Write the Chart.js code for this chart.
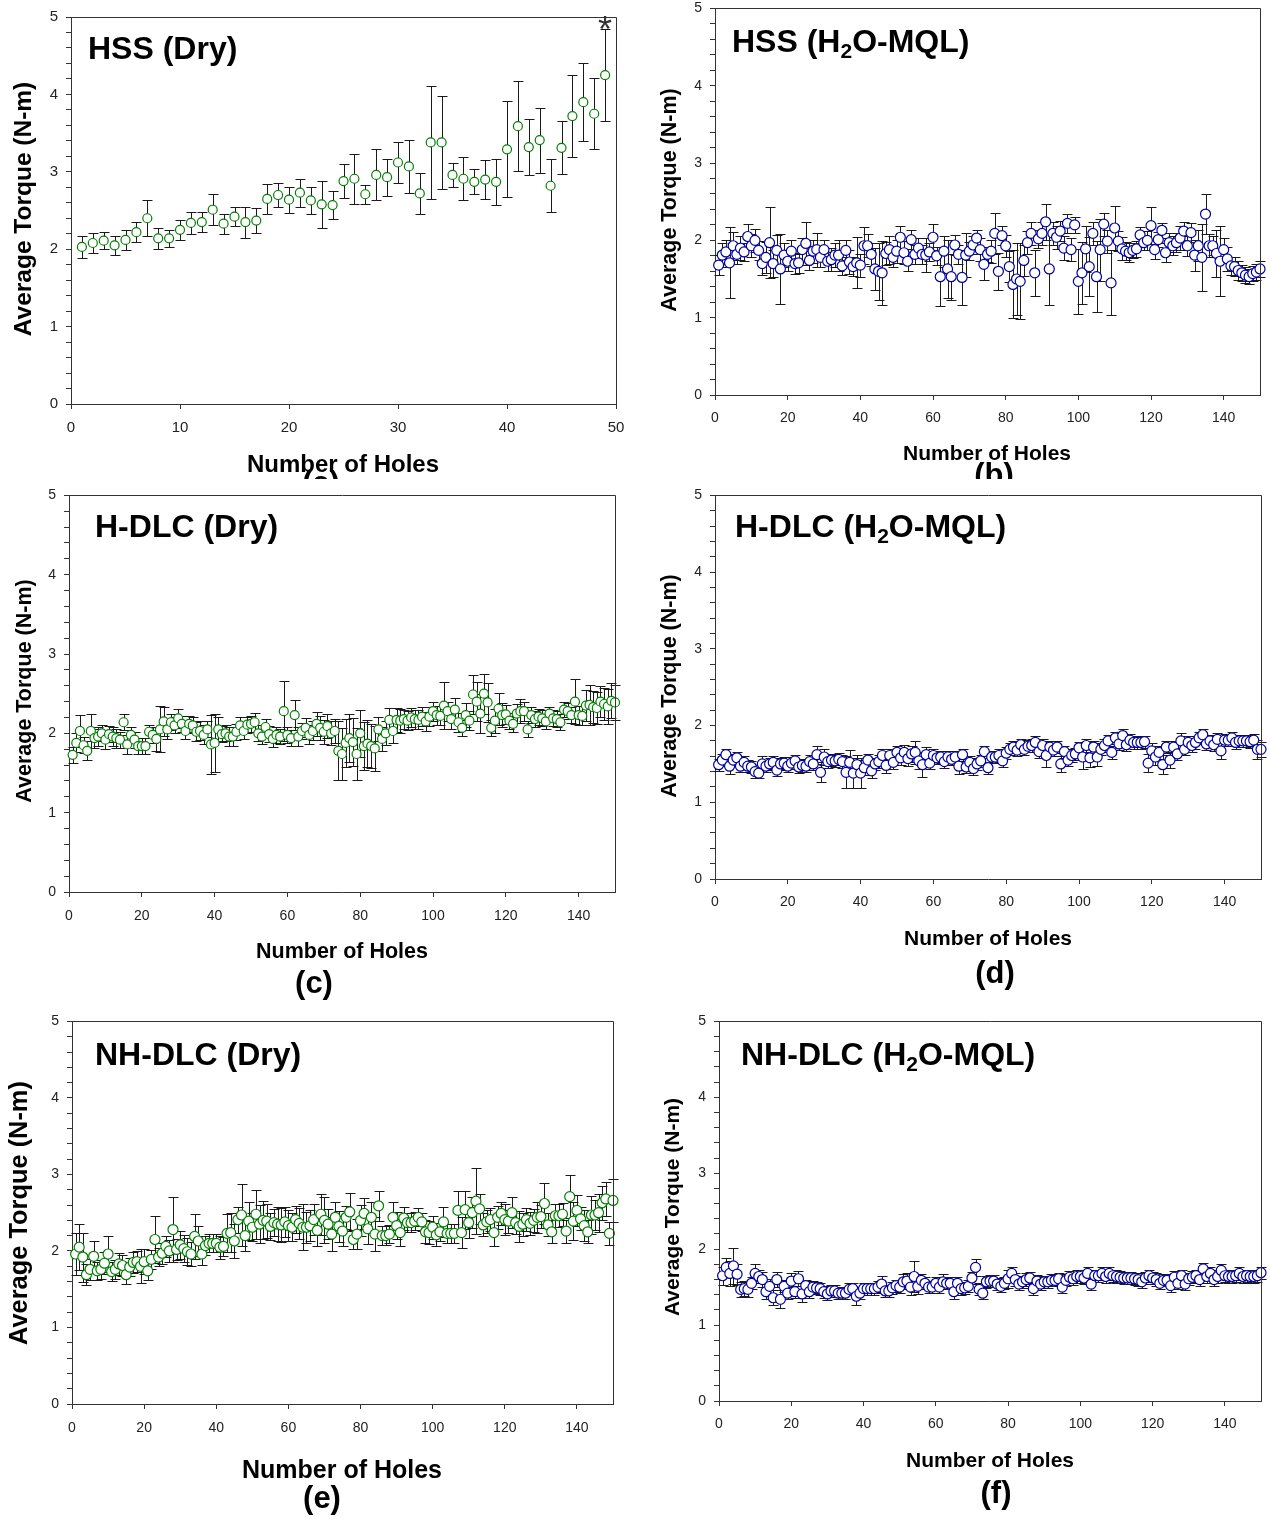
<!DOCTYPE html>
<html>
<head>
<meta charset="utf-8">
<script src="https://cdn.jsdelivr.net/npm/chart.js@4.4.1/dist/chart.umd.min.js"></script>
<style>
  html, body { margin: 0; padding: 0; background: #fff; }
  #page { position: relative; width: 1270px; height: 1519px; overflow: hidden; background: #fff; }
  #page canvas { position: absolute; }
</style>
</head>
<body>
<div id="page">
  <canvas id="pa"></canvas>
  <canvas id="pb"></canvas>
  <canvas id="pc"></canvas>
  <canvas id="pd"></canvas>
  <canvas id="pe"></canvas>
  <canvas id="pf"></canvas>
</div>
<script>
// ---- data (average torque, N-m, and +/- error per hole) ----

var torqueA = [2.03,2.08,2.11,2.05,2.12,2.22,2.40,2.14,2.14,2.25,
  2.34,2.35,2.51,2.33,2.42,2.35,2.37,2.65,2.70,2.64,
  2.73,2.63,2.58,2.57,2.88,2.91,2.71,2.96,2.93,3.12,
  3.07,2.72,3.38,3.38,2.96,2.91,2.87,2.90,2.87,3.29,
  3.59,3.32,3.41,2.82,3.31,3.72,3.90,3.75,4.25];
var errA = [0.14,0.13,0.11,0.12,0.13,0.13,0.23,0.14,0.11,0.13,
  0.14,0.13,0.20,0.13,0.12,0.20,0.16,0.19,0.16,0.17,
  0.18,0.18,0.30,0.18,0.22,0.32,0.12,0.33,0.24,0.27,
  0.34,0.27,0.73,0.60,0.16,0.28,0.16,0.25,0.30,0.62,
  0.58,0.36,0.42,0.34,0.34,0.53,0.50,0.46,0.59];

var torqueB = [1.68,1.81,1.85,1.71,1.93,1.82,1.90,1.85,2.05,1.93,
  2.00,1.87,1.70,1.78,1.97,1.70,1.87,1.63,1.81,1.73,
  1.86,1.70,1.71,1.88,1.96,1.74,1.86,1.88,1.78,1.88,
  1.73,1.75,1.81,1.81,1.67,1.87,1.72,1.66,1.71,1.68,
  1.93,1.93,1.82,1.63,1.60,1.58,1.83,1.88,1.78,1.86,
  2.04,1.84,1.73,2.01,1.82,1.90,1.82,1.81,1.85,2.04,
  1.80,1.53,1.86,1.63,1.53,1.94,1.82,1.52,1.81,1.86,
  1.94,2.03,1.88,1.69,1.82,1.86,2.09,1.60,2.06,1.93,
  1.66,1.43,1.50,1.47,1.74,1.97,2.09,1.58,2.02,2.09,
  2.24,1.63,2.09,2.04,2.12,1.90,2.22,1.88,2.20,1.47,
  1.58,1.89,1.66,2.09,1.53,1.88,2.21,1.99,1.45,2.16,
  1.99,1.89,1.86,1.84,1.87,1.89,2.07,1.97,2.00,2.19,
  1.88,2.01,2.13,1.84,1.97,1.93,1.97,2.03,2.12,1.93,
  2.10,1.81,1.93,1.78,2.34,1.93,1.93,1.83,1.73,1.88,
  1.76,1.67,1.66,1.61,1.58,1.55,1.53,1.57,1.59,1.63];
var errB = [0.13,0.15,0.15,0.46,0.18,0.12,0.15,0.12,0.16,0.15,
  0.15,0.12,0.15,0.20,0.46,0.18,0.20,0.45,0.15,0.12,
  0.15,0.13,0.13,0.15,0.28,0.12,0.15,0.22,0.12,0.12,
  0.12,0.15,0.15,0.20,0.12,0.13,0.15,0.12,0.33,0.15,
  0.24,0.15,0.15,0.27,0.37,0.41,0.15,0.18,0.12,0.15,
  0.15,0.15,0.12,0.12,0.12,0.13,0.12,0.22,0.12,0.17,
  0.12,0.38,0.20,0.38,0.30,0.13,0.12,0.35,0.28,0.12,
  0.12,0.10,0.15,0.20,0.10,0.15,0.26,0.24,0.12,0.14,
  0.20,0.44,0.47,0.49,0.20,0.15,0.15,0.30,0.12,0.15,
  0.23,0.47,0.15,0.15,0.13,0.15,0.12,0.15,0.10,0.42,
  0.40,0.30,0.38,0.15,0.46,0.40,0.15,0.15,0.42,0.29,
  0.13,0.15,0.12,0.12,0.10,0.10,0.10,0.10,0.12,0.24,
  0.12,0.10,0.10,0.12,0.12,0.12,0.12,0.15,0.12,0.13,
  0.12,0.20,0.20,0.43,0.26,0.15,0.12,0.30,0.45,0.15,
  0.15,0.12,0.12,0.12,0.10,0.10,0.10,0.10,0.10,0.10];

var torqueC = [1.73,1.88,2.03,1.85,1.78,2.03,1.94,1.96,2.00,1.92,
  1.99,1.96,1.94,1.92,2.14,1.86,1.98,1.92,1.84,1.84,
  1.84,2.02,1.98,1.93,2.05,2.15,2.05,2.14,2.10,2.19,
  2.12,2.03,2.12,2.10,2.02,2.03,1.98,2.05,1.86,1.88,
  2.05,1.99,2.00,1.96,1.96,2.02,2.10,2.03,2.11,2.12,
  2.14,2.00,1.96,2.08,1.99,1.93,1.98,1.96,2.28,1.98,
  1.94,2.23,1.96,2.03,2.07,1.98,2.03,2.12,2.07,2.02,
  2.09,2.00,2.03,1.78,1.74,1.88,1.94,1.89,1.74,2.00,
  1.84,1.87,1.84,1.81,2.05,1.93,2.00,2.17,2.03,2.17,
  2.16,2.18,2.16,2.20,2.18,2.17,2.21,2.15,2.21,2.28,
  2.23,2.22,2.35,2.28,2.18,2.30,2.14,2.07,2.23,2.16,
  2.49,2.40,2.25,2.50,2.39,2.07,2.16,2.31,2.23,2.24,
  2.16,2.12,2.25,2.28,2.28,2.05,2.23,2.18,2.21,2.19,
  2.15,2.25,2.19,2.18,2.14,2.30,2.28,2.23,2.40,2.23,
  2.22,2.35,2.36,2.33,2.32,2.40,2.37,2.34,2.41,2.39];
var errC = [0.10,0.12,0.20,0.10,0.12,0.21,0.12,0.12,0.10,0.12,
  0.10,0.12,0.12,0.10,0.10,0.12,0.10,0.10,0.10,0.10,
  0.10,0.08,0.10,0.15,0.29,0.18,0.12,0.10,0.10,0.12,
  0.10,0.10,0.10,0.10,0.12,0.12,0.12,0.10,0.37,0.37,
  0.15,0.10,0.10,0.12,0.12,0.10,0.10,0.10,0.10,0.10,
  0.12,0.10,0.10,0.10,0.10,0.10,0.10,0.10,0.38,0.10,
  0.10,0.19,0.12,0.10,0.12,0.12,0.12,0.15,0.15,0.15,
  0.15,0.15,0.15,0.37,0.33,0.30,0.30,0.30,0.33,0.30,
  0.30,0.30,0.28,0.28,0.15,0.15,0.15,0.15,0.15,0.15,
  0.15,0.12,0.12,0.12,0.12,0.12,0.12,0.12,0.12,0.12,
  0.12,0.12,0.30,0.12,0.12,0.15,0.12,0.10,0.15,0.12,
  0.25,0.25,0.25,0.25,0.25,0.10,0.15,0.20,0.15,0.12,
  0.10,0.10,0.12,0.15,0.12,0.10,0.10,0.10,0.10,0.10,
  0.10,0.08,0.10,0.10,0.10,0.10,0.10,0.10,0.28,0.12,
  0.12,0.20,0.25,0.20,0.20,0.20,0.20,0.22,0.22,0.22];

var torqueD = [1.49,1.55,1.62,1.47,1.55,1.58,1.47,1.52,1.47,1.46,
  1.40,1.38,1.50,1.47,1.50,1.52,1.42,1.50,1.51,1.47,
  1.51,1.54,1.46,1.48,1.47,1.53,1.50,1.62,1.39,1.59,
  1.53,1.55,1.54,1.56,1.53,1.39,1.52,1.38,1.49,1.38,
  1.45,1.55,1.41,1.50,1.53,1.61,1.48,1.61,1.52,1.65,
  1.58,1.65,1.57,1.63,1.65,1.54,1.49,1.62,1.51,1.61,
  1.58,1.59,1.53,1.59,1.56,1.59,1.47,1.62,1.46,1.52,
  1.44,1.50,1.54,1.66,1.45,1.59,1.59,1.61,1.54,1.64,
  1.69,1.72,1.68,1.75,1.69,1.73,1.74,1.78,1.66,1.74,
  1.61,1.72,1.68,1.72,1.50,1.66,1.55,1.61,1.63,1.71,
  1.59,1.74,1.58,1.72,1.59,1.69,1.74,1.80,1.65,1.84,
  1.76,1.87,1.75,1.81,1.78,1.78,1.78,1.79,1.51,1.67,
  1.59,1.65,1.49,1.72,1.55,1.72,1.63,1.80,1.69,1.78,
  1.74,1.78,1.84,1.88,1.76,1.80,1.75,1.82,1.67,1.81,
  1.81,1.84,1.78,1.80,1.80,1.80,1.79,1.81,1.69,1.69];
var errD = [0.08,0.08,0.08,0.10,0.08,0.08,0.08,0.08,0.08,0.08,
  0.08,0.07,0.10,0.08,0.08,0.08,0.08,0.08,0.08,0.08,
  0.08,0.08,0.08,0.08,0.08,0.08,0.08,0.12,0.13,0.10,
  0.08,0.08,0.08,0.08,0.08,0.21,0.16,0.20,0.12,0.20,
  0.10,0.08,0.10,0.08,0.08,0.08,0.10,0.08,0.08,0.08,
  0.10,0.10,0.10,0.10,0.15,0.10,0.16,0.10,0.08,0.08,
  0.08,0.08,0.08,0.08,0.08,0.08,0.10,0.08,0.08,0.08,
  0.08,0.08,0.08,0.08,0.08,0.08,0.08,0.08,0.08,0.08,
  0.08,0.08,0.08,0.08,0.08,0.08,0.08,0.08,0.08,0.08,
  0.15,0.08,0.08,0.08,0.10,0.08,0.08,0.08,0.08,0.08,
  0.15,0.08,0.12,0.08,0.12,0.08,0.08,0.08,0.08,0.08,
  0.08,0.08,0.08,0.08,0.08,0.08,0.08,0.08,0.12,0.10,
  0.10,0.08,0.12,0.08,0.10,0.08,0.08,0.10,0.08,0.08,
  0.08,0.08,0.08,0.08,0.08,0.08,0.08,0.08,0.10,0.08,
  0.08,0.08,0.08,0.08,0.08,0.08,0.08,0.08,0.12,0.10];

var torqueE = [1.96,2.05,1.92,1.69,1.76,1.93,1.74,1.76,1.84,1.96,
  1.73,1.76,1.83,1.81,1.69,1.79,1.85,1.86,1.80,1.86,
  1.74,1.89,2.15,1.92,1.97,2.06,2.00,2.28,2.02,2.08,
  2.03,1.99,1.96,2.19,2.13,1.96,2.07,2.10,2.10,2.10,
  2.05,2.06,2.23,2.24,2.13,2.41,2.47,2.20,2.39,2.31,
  2.48,2.35,2.40,2.39,2.32,2.37,2.35,2.34,2.38,2.33,
  2.31,2.41,2.36,2.31,2.31,2.33,2.41,2.27,2.48,2.40,
  2.35,2.22,2.44,2.32,2.26,2.44,2.51,2.15,2.22,2.40,
  2.49,2.29,2.44,2.22,2.59,2.20,2.20,2.22,2.44,2.33,
  2.24,2.43,2.37,2.37,2.39,2.44,2.38,2.25,2.24,2.31,
  2.21,2.25,2.38,2.23,2.23,2.23,2.53,2.24,2.54,2.37,
  2.50,2.65,2.55,2.34,2.38,2.41,2.24,2.44,2.49,2.41,
  2.39,2.50,2.37,2.32,2.35,2.41,2.36,2.40,2.44,2.45,
  2.62,2.34,2.25,2.46,2.46,2.48,2.26,2.71,2.39,2.53,
  2.42,2.33,2.25,2.47,2.47,2.50,2.63,2.68,2.23,2.66];
var errE = [0.27,0.30,0.32,0.14,0.14,0.20,0.12,0.12,0.14,0.23,
  0.12,0.12,0.14,0.14,0.12,0.12,0.14,0.14,0.22,0.16,
  0.12,0.12,0.31,0.12,0.14,0.14,0.14,0.43,0.14,0.18,
  0.18,0.18,0.16,0.29,0.20,0.14,0.12,0.12,0.12,0.12,
  0.15,0.12,0.25,0.25,0.22,0.17,0.40,0.20,0.25,0.18,
  0.32,0.25,0.25,0.22,0.18,0.18,0.22,0.22,0.20,0.20,
  0.18,0.18,0.20,0.30,0.20,0.20,0.20,0.20,0.27,0.30,
  0.20,0.22,0.20,0.20,0.20,0.15,0.25,0.12,0.20,0.20,
  0.20,0.20,0.20,0.22,0.20,0.12,0.12,0.12,0.20,0.18,
  0.18,0.15,0.12,0.12,0.12,0.12,0.12,0.15,0.15,0.15,
  0.15,0.12,0.20,0.12,0.12,0.12,0.25,0.20,0.25,0.20,
  0.20,0.43,0.20,0.15,0.15,0.15,0.18,0.15,0.15,0.20,
  0.15,0.20,0.15,0.20,0.15,0.15,0.15,0.15,0.20,0.15,
  0.27,0.15,0.15,0.15,0.15,0.15,0.15,0.28,0.25,0.20,
  0.15,0.20,0.15,0.25,0.20,0.25,0.22,0.22,0.15,0.28];

var torqueF = [1.65,1.76,1.68,1.78,1.67,1.47,1.48,1.47,1.55,1.68,
  1.64,1.60,1.44,1.51,1.36,1.60,1.34,1.51,1.42,1.58,
  1.44,1.61,1.41,1.52,1.44,1.50,1.49,1.48,1.44,1.41,
  1.45,1.45,1.42,1.42,1.42,1.47,1.48,1.38,1.42,1.48,
  1.48,1.48,1.48,1.50,1.54,1.45,1.45,1.49,1.52,1.50,
  1.57,1.58,1.50,1.64,1.51,1.59,1.55,1.50,1.50,1.55,
  1.50,1.57,1.55,1.55,1.44,1.55,1.48,1.49,1.51,1.62,
  1.76,1.47,1.42,1.57,1.58,1.58,1.54,1.51,1.55,1.61,
  1.68,1.60,1.54,1.57,1.60,1.62,1.48,1.58,1.54,1.57,
  1.57,1.59,1.59,1.61,1.50,1.59,1.63,1.61,1.64,1.64,
  1.62,1.68,1.54,1.65,1.65,1.68,1.64,1.68,1.65,1.64,
  1.63,1.62,1.62,1.62,1.61,1.60,1.57,1.62,1.65,1.62,
  1.60,1.55,1.59,1.59,1.52,1.63,1.55,1.65,1.54,1.61,
  1.63,1.65,1.60,1.74,1.64,1.68,1.60,1.64,1.72,1.65,
  1.64,1.64,1.65,1.68,1.64,1.65,1.64,1.64,1.65,1.69];
var errF = [0.12,0.13,0.17,0.24,0.14,0.10,0.10,0.10,0.08,0.12,
  0.08,0.10,0.10,0.10,0.10,0.10,0.12,0.08,0.08,0.10,
  0.08,0.10,0.10,0.08,0.08,0.08,0.08,0.08,0.08,0.08,
  0.08,0.08,0.08,0.08,0.08,0.08,0.08,0.12,0.08,0.08,
  0.08,0.08,0.08,0.08,0.10,0.08,0.08,0.08,0.08,0.08,
  0.10,0.10,0.10,0.20,0.10,0.08,0.08,0.08,0.08,0.08,
  0.08,0.10,0.08,0.08,0.10,0.08,0.08,0.08,0.08,0.08,
  0.11,0.08,0.08,0.08,0.08,0.08,0.08,0.08,0.08,0.12,
  0.08,0.08,0.08,0.08,0.08,0.08,0.08,0.08,0.08,0.08,
  0.08,0.08,0.08,0.08,0.08,0.08,0.08,0.08,0.08,0.08,
  0.08,0.08,0.08,0.08,0.08,0.08,0.08,0.08,0.08,0.08,
  0.08,0.08,0.08,0.08,0.08,0.08,0.08,0.08,0.08,0.08,
  0.08,0.08,0.08,0.08,0.08,0.08,0.08,0.08,0.08,0.08,
  0.08,0.08,0.08,0.08,0.08,0.08,0.08,0.08,0.08,0.08,
  0.08,0.08,0.08,0.08,0.08,0.08,0.08,0.08,0.08,0.08];

// tick labels
var xTicks50 = [0, 10, 20, 30, 40, 50];
var xTicks150 = [0, 20, 40, 60, 80, 100, 120, 140];
var xLabel = 'Number of Holes';
var yLabel = 'Average Torque (N-m)';

// ---- layout ----

var FONT = 'Arial, "Liberation Sans", Helvetica, sans-serif';
var GREEN = '#008000';
var BLUE = '#0000a0';

function holeNumbers(n) {
  var out = [];
  for (var i = 1; i <= n; i++) out.push(i);
  return out;
}

// all positions in page pixels
var panels = [
  { id: 'pa', left: 0, top: 0, w: 640, h: 479, plot: { l: 71, r: 616, t: 14, b: 404 },
    torque: torqueA, err: errA, xMax: 50, xTicks: xTicks50, color: GREEN, radius: 4.5, tick: 15, xPad: 10,
    title: ['HSS (Dry)'], titlePos: [88, 59],
    yTitle: [31, 209, 24.5], xTitle: [343, 472, 24], letter: ['(a)', 321, 493], star: 49 },
  { id: 'pb', left: 650, top: -8, w: 620, h: 487, plot: { l: 715, r: 1260, t: 7, b: 395 },
    torque: torqueB, err: errB, xMax: 150, xTicks: xTicks150, color: BLUE, radius: 5, tick: 14, xPad: 10,
    title: ['HSS (H', '2', 'O-MQL)'], titlePos: [732, 52],
    yTitle: [676, 200, 21.5], xTitle: [987, 460, 21], letter: ['(b)', 994, 485] },
  { id: 'pc', left: 0, top: 479, w: 640, h: 526, plot: { l: 69, r: 615, t: 492, b: 892 },
    torque: torqueC, err: errC, xMax: 150, xTicks: xTicks150, color: GREEN, radius: 4.5, tick: 14, xPad: 11,
    title: ['H-DLC (Dry)'], titlePos: [95, 537],
    yTitle: [31, 691, 21.5], xTitle: [342, 958, 21.5], letter: ['(c)', 314, 993] },
  { id: 'pd', left: 650, top: 479, w: 620, h: 526, plot: { l: 715, r: 1261, t: 493, b: 879 },
    torque: torqueD, err: errD, xMax: 150, xTicks: xTicks150, color: BLUE, radius: 5, tick: 14, xPad: 10,
    title: ['H-DLC (H', '2', 'O-MQL)'], titlePos: [735, 537],
    yTitle: [676, 686, 21.5], xTitle: [988, 945, 21], letter: ['(d)', 995, 983] },
  { id: 'pe', left: 0, top: 1005, w: 640, h: 514, plot: { l: 72, r: 613, t: 1019, b: 1404 },
    torque: torqueE, err: errE, xMax: 150, xTicks: xTicks150, color: GREEN, radius: 5, tick: 14, xPad: 11,
    title: ['NH-DLC (Dry)'], titlePos: [95, 1065],
    yTitle: [27, 1213, 25.4], xTitle: [342, 1478, 25], letter: ['(e)', 322, 1508] },
  { id: 'pf', left: 650, top: 1005, w: 620, h: 514, plot: { l: 719, r: 1261, t: 1015, b: 1401 },
    torque: torqueF, err: errF, xMax: 150, xTicks: xTicks150, color: BLUE, radius: 5, tick: 14, xPad: 10,
    title: ['NH-DLC (H', '2', 'O-MQL)'], titlePos: [741, 1065],
    yTitle: [679, 1207, 21], xTitle: [990, 1467, 21], letter: ['(f)', 996, 1503] }
];

function decoPlugin(p) {
  return {
    id: 'deco',
    beforeDatasetsDraw: function(chart) {
      // error bars, under the open circles
      var ctx = chart.ctx, xs = chart.scales.x, ys = chart.scales.y;
      var cap = 5;
      ctx.save();
      ctx.strokeStyle = '#1a1a1a';
      ctx.lineWidth = 1;
      chart.data.datasets[0].data.forEach(function(pt, i) {
        var e = p.err[i];
        var x = Math.round(xs.getPixelForValue(pt.x)) + 0.5;
        var top = Math.round(ys.getPixelForValue(pt.y + e)) + 0.5;
        var bot = Math.round(ys.getPixelForValue(pt.y - e)) + 0.5;
        ctx.beginPath();
        ctx.moveTo(x, top); ctx.lineTo(x, bot);
        ctx.moveTo(x - cap, top); ctx.lineTo(x + cap, top);
        ctx.moveTo(x - cap, bot); ctx.lineTo(x + cap, bot);
        ctx.stroke();
      });
      ctx.restore();
    },
    afterDraw: function(chart) {
      var ctx = chart.ctx, a = chart.chartArea;
      ctx.save();
      // top and right sides of the frame
      ctx.strokeStyle = '#333';
      ctx.lineWidth = 1;
      ctx.beginPath();
      ctx.moveTo(Math.round(a.left) + 0.5, Math.round(a.top) + 0.5);
      ctx.lineTo(Math.round(a.right) + 0.5, Math.round(a.top) + 0.5);
      ctx.lineTo(Math.round(a.right) + 0.5, Math.round(a.bottom) + 0.5);
      ctx.stroke();

      ctx.translate(-p.left, -p.top);
      ctx.fillStyle = '#000';

      // panel title, with subscript parts at odd positions
      var tx = p.titlePos[0], ty = p.titlePos[1];
      ctx.textAlign = 'left';
      ctx.textBaseline = 'alphabetic';
      p.title.forEach(function(s, i) {
        var sub = i % 2 === 1;
        ctx.font = 'bold ' + (sub ? 21 : 32) + 'px ' + FONT;
        ctx.fillText(s, tx, ty + (sub ? 6 : 0));
        tx += ctx.measureText(s).width;
      });

      // x axis title
      ctx.textAlign = 'center';
      ctx.font = 'bold ' + p.xTitle[2] + 'px ' + FONT;
      ctx.fillText(xLabel, p.xTitle[0], p.xTitle[1]);

      // panel letter
      ctx.font = 'bold 31px ' + FONT;
      ctx.fillText(p.letter[0], p.letter[1], p.letter[2]);

      // y axis title
      ctx.save();
      ctx.translate(p.yTitle[0], p.yTitle[1]);
      ctx.rotate(-Math.PI / 2);
      ctx.font = 'bold ' + p.yTitle[2] + 'px ' + FONT;
      ctx.fillText(yLabel, 0, 0);
      ctx.restore();
      ctx.restore();

      // asterisk above the last hole
      if (p.star) {
        var xs = chart.scales.x, ys = chart.scales.y;
        var i = p.star - 1;
        var sx = xs.getPixelForValue(p.star);
        var sy = ys.getPixelForValue(p.torque[i] + p.err[i]);
        ctx.save();
        ctx.fillStyle = '#333';
        ctx.font = '36px ' + FONT;
        ctx.textAlign = 'center';
        ctx.textBaseline = 'alphabetic';
        ctx.fillText('*', sx, sy + 13);
        ctx.restore();
      }
    }
  };
}

function makePanel(p) {
  var canvas = document.getElementById(p.id);
  canvas.width = p.w;
  canvas.height = p.h;
  canvas.style.left = p.left + 'px';
  canvas.style.top = p.top + 'px';
  canvas.style.width = p.w + 'px';
  canvas.style.height = p.h + 'px';

  var holes = holeNumbers(p.torque.length);
  var pts = holes.map(function(h, i) { return { x: h, y: p.torque[i] }; });

  var gridOpts = { drawOnChartArea: false, drawTicks: true, tickLength: 5, tickColor: '#333', tickWidth: 1 };
  var borderOpts = { display: true, color: '#333', width: 1 };

  return new Chart(canvas.getContext('2d'), {
    type: 'scatter',
    data: {
      datasets: [{
        data: pts,
        pointStyle: 'circle',
        pointRadius: p.radius,
        pointBorderWidth: 1.2,
        pointBorderColor: p.color,
        pointBackgroundColor: '#ffffff',
        showLine: false,
        clip: false
      }]
    },
    options: {
      responsive: false,
      animation: false,
      devicePixelRatio: 1,
      events: [],
      layout: {
        padding: { top: p.plot.t - p.top, right: p.left + p.w - p.plot.r, left: 0, bottom: 0 }
      },
      plugins: {
        legend: { display: false },
        tooltip: { enabled: false },
        title: { display: false }
      },
      scales: {
        x: {
          type: 'linear',
          position: 'bottom',
          min: 0,
          max: p.xMax,
          afterBuildTicks: function(scale) {
            scale.ticks = p.xTicks.map(function(v) { return { value: v }; });
          },
          afterFit: function(scale) { scale.height = p.top + p.h - p.plot.b; },
          ticks: {
            autoSkip: false,
            maxRotation: 0,
            padding: p.xPad,
            color: '#222',
            font: { family: FONT, size: p.tick }
          },
          grid: gridOpts,
          border: borderOpts
        },
        y: {
          type: 'linear',
          position: 'left',
          min: 0,
          max: 5,
          afterFit: function(scale) { scale.width = p.plot.l - p.left; },
          ticks: {
            stepSize: 0.2,
            autoSkip: false,
            padding: 8,
            color: '#222',
            font: { family: FONT, size: p.tick },
            callback: function(v) {
              return Math.abs(v - Math.round(v)) < 1e-6 ? String(Math.round(v)) : '';
            }
          },
          grid: gridOpts,
          border: borderOpts
        }
      }
    },
    plugins: [decoPlugin(p)]
  });
}

panels.forEach(makePanel);
</script>
</body>
</html>
